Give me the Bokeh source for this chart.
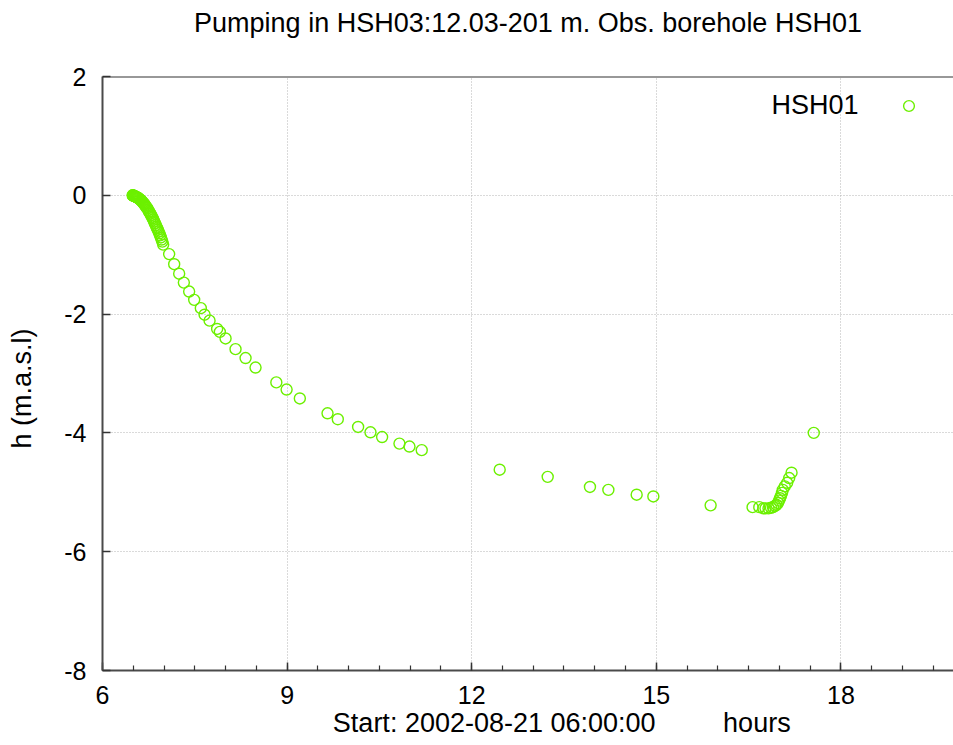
from bokeh.plotting import figure
from bokeh.models import (Range1d, SingleIntervalTicker, FixedTicker, Label, Span,
                          Legend, LegendItem, LinearAxis, CustomJSTickFormatter)
from bokeh.embed import file_html
from bokeh.resources import INLINE

title_text = "Pumping in HSH03:12.03-201 m. Obs. borehole HSH01"
series_name = "HSH01"
x_label_start = "Start: 2002-08-21 06:00:00"
x_label_unit = "hours"
y_label_text = "h (m.a.s.l)"

# hours since start of day (x) and head in m.a.s.l (y)
hours = [
    6.490, 6.494, 6.498, 6.502, 6.507, 6.513, 6.520, 6.527, 6.534, 6.542,
    6.550, 6.559, 6.568, 6.577, 6.587, 6.597, 6.608, 6.620, 6.632, 6.644,
    6.656, 6.669, 6.681, 6.693, 6.705, 6.717, 6.729, 6.742, 6.754, 6.766,
    6.778, 6.790, 6.802, 6.815, 6.827, 6.839, 6.851, 6.864, 6.876, 6.888,
    6.900, 6.912, 6.924, 6.937, 6.949, 6.961, 6.973,
    6.986, 7.083, 7.165, 7.246, 7.322, 7.408, 7.490, 7.598, 7.659, 7.740,
    7.863, 7.907, 8.000, 8.162, 8.325, 8.487, 8.825, 8.992, 9.207, 9.657,
    9.824, 10.154, 10.355, 10.544, 10.826, 10.989, 11.188, 12.455, 13.235,
    13.922, 14.221, 14.681, 14.952, 15.883,
    16.565, 16.674, 16.739, 16.775, 16.824, 16.864, 16.897, 16.929, 16.953,
    16.978, 16.994, 17.011, 17.027, 17.043, 17.056, 17.088, 17.127, 17.160,
    17.198, 17.559,
]
head = [
    0.000, 0.000, -0.005, -0.005, -0.010, -0.010, -0.015, -0.020, -0.020, -0.025,
    -0.030, -0.030, -0.040, -0.045, -0.050, -0.060, -0.070, -0.080, -0.090, -0.105,
    -0.120, -0.135, -0.150, -0.170, -0.190, -0.205, -0.220, -0.245, -0.270, -0.290,
    -0.310, -0.335, -0.360, -0.385, -0.410, -0.440, -0.470, -0.500, -0.530, -0.555,
    -0.580, -0.610, -0.640, -0.675, -0.710, -0.745, -0.780,
    -0.83, -0.99, -1.16, -1.32, -1.47, -1.62, -1.76, -1.90, -2.01, -2.11,
    -2.25, -2.30, -2.41, -2.59, -2.74, -2.90, -3.15, -3.27, -3.42, -3.67,
    -3.77, -3.90, -3.99, -4.07, -4.18, -4.23, -4.29, -4.62, -4.74,
    -4.91, -4.96, -5.04, -5.07, -5.22,
    -5.25, -5.25, -5.27, -5.27, -5.27, -5.26, -5.25, -5.23, -5.21,
    -5.18, -5.14, -5.10, -5.06, -5.01, -4.96, -4.90, -4.84, -4.76,
    -4.67, -4.00,
]

FONT = "Liberation Sans"
GREEN = "#6cf000"
NB = "\u00a0"

p = figure(width=953, height=745,
           x_range=Range1d(6, 19.83), y_range=Range1d(-8, 2),
           output_backend="svg", toolbar_location=None,
           min_border_left=102, min_border_right=0,
           min_border_top=76, min_border_bottom=75)
p.outline_line_color = None
p.background_fill_color = "white"
p.border_fill_color = "white"

xa = p.xaxis[0]
ya = p.yaxis[0]
xa.ticker = SingleIntervalTicker(interval=3, num_minor_ticks=6)
ya.ticker = SingleIntervalTicker(interval=2, num_minor_ticks=0)
for ax in (xa, ya):
    ax.formatter = CustomJSTickFormatter(code="return tick.toFixed(0);")
    ax.axis_line_color = "#4a4a4a"
    ax.axis_line_width = 2
    ax.major_tick_in = 8
    ax.major_tick_out = 0
    ax.major_tick_line_color = "#333333"
    ax.major_tick_line_width = 1.5
    ax.major_label_text_font = FONT
    ax.major_label_text_font_size = "25px"
    ax.major_label_text_color = "black"
    ax.axis_label_text_font = FONT
    ax.axis_label_text_font_size = "27px"
    ax.axis_label_text_font_style = "normal"
    ax.axis_label_text_color = "black"
xa.minor_tick_in = 5
xa.minor_tick_out = 0
xa.minor_tick_line_color = "#333333"
xa.minor_tick_line_width = 1.2
xa.major_label_standoff = 15
xa.axis_label = NB * 9 + x_label_start + NB * 9 + x_label_unit
xa.axis_label_standoff = 1
ya.minor_tick_line_color = None
ya.major_label_standoff = 16
ya.axis_label = y_label_text + NB * 4
ya.axis_label_standoff = 24

# title carried by an empty axis on top
ta = LinearAxis(ticker=FixedTicker(ticks=[]), axis_line_color=None,
                major_tick_line_color=None, minor_tick_line_color=None,
                major_label_standoff=0, major_tick_in=0, major_tick_out=0,
                minor_tick_in=0, minor_tick_out=0,
                axis_label=title_text, axis_label_standoff=39,
                axis_label_text_font=FONT, axis_label_text_font_size="27px",
                axis_label_text_font_style="normal", axis_label_text_color="black")
p.add_layout(ta, "above")

# grid
p.grid.grid_line_color = "#b4b4b4"
p.grid.grid_line_dash = "1 2"
p.grid.grid_line_width = 1

# top border
p.add_layout(Span(location=2, dimension="width", line_color="#333333", line_width=2))

r = p.scatter(hours, head, marker="circle", size=11, fill_color=None,
              line_color=GREEN, line_width=1.4)

legend = Legend(items=[LegendItem(label=" ", renderers=[r])],
                location=(792.5, 551.5), padding=0, margin=0, spacing=0,
                border_line_color=None, background_fill_alpha=0,
                glyph_width=27, glyph_height=27, label_standoff=0,
                label_text_font_size="1px", label_height=27, label_width=1)
p.add_layout(legend)

p.add_layout(Label(x=18.287, y=1.512, text=series_name, text_align="right",
                   text_baseline="middle", text_font=FONT,
                   text_font_size="27px", text_color="black"))

open("out.html", "w").write(file_html(p, INLINE))
